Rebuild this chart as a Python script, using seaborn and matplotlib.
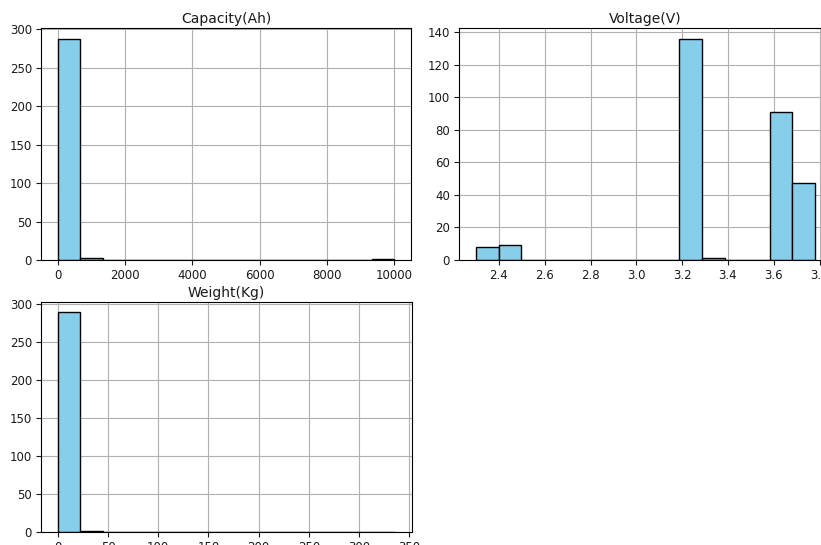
import numpy as np
import pandas as pd
import matplotlib
matplotlib.use("Agg")
import matplotlib.pyplot as plt
import seaborn as sns

# Histogram counts per column (15 equal-width bins each)
capacity_range = (0.0, 10000.0)
capacity_counts = [288, 3, 0, 0, 0, 0, 0, 0, 0, 0, 0, 0, 0, 0, 1]

voltage_range = (2.30, 3.78)
voltage_counts = [8, 9, 0, 0, 0, 0, 0, 0, 0, 136, 1, 0, 0, 91, 47]

weight_range = (0.0, 336.0)
weight_counts = [289, 2, 0, 0, 0, 0, 0, 0, 0, 0, 0, 0, 0, 0, 1]

titles = ["Capacity(Ah)", "Voltage(V)", "Weight(Kg)"]

sns.set_style("white")
plt.rcParams["font.family"] = ["DejaVu Sans"]
plt.rcParams["text.color"] = "#1a1a1a"
plt.rcParams["xtick.color"] = "#1a1a1a"
plt.rcParams["ytick.color"] = "#1a1a1a"

fig = plt.figure(figsize=(8.21, 5.45), dpi=100)
W, H = 821.0, 545.0


def add_axes(left, top, right, bottom):
    return fig.add_axes([left / W, 1 - bottom / H, (right - left) / W, (bottom - top) / H])


axes = [
    add_axes(41, 27.5, 411, 260),
    add_axes(459, 27.5, 832, 260),
    add_axes(41, 301.5, 412, 532.3),
]

series = [
    (capacity_range, capacity_counts),
    (voltage_range, voltage_counts),
    (weight_range, weight_counts),
]

for ax, title, (rng, counts) in zip(axes, titles, series):
    edges = np.linspace(rng[0], rng[1], len(counts) + 1)
    centers = (edges[:-1] + edges[1:]) / 2
    df = pd.DataFrame({"value": centers, "count": counts})
    sns.histplot(data=df, x="value", weights="count", bins=edges.tolist(), ax=ax,
                 color="skyblue", edgecolor="black", linewidth=1.0, alpha=1.0)
    ax.set_title(title, fontsize=10, pad=3, color="#1a1a1a")
    ax.set_xlabel("")
    ax.set_ylabel("")
    ax.grid(True, color="#b0b0b0", linewidth=0.8)
    ax.set_axisbelow(True)
    ax.tick_params(axis="both", labelsize=8.5, length=3.5, width=0.8,
                   direction="out", bottom=True, left=True, pad=3)
    for s in ax.spines.values():
        s.set_visible(True)
        s.set_color("black")
        s.set_linewidth(0.8)

fig.savefig("out.png", dpi=100, facecolor="white")
